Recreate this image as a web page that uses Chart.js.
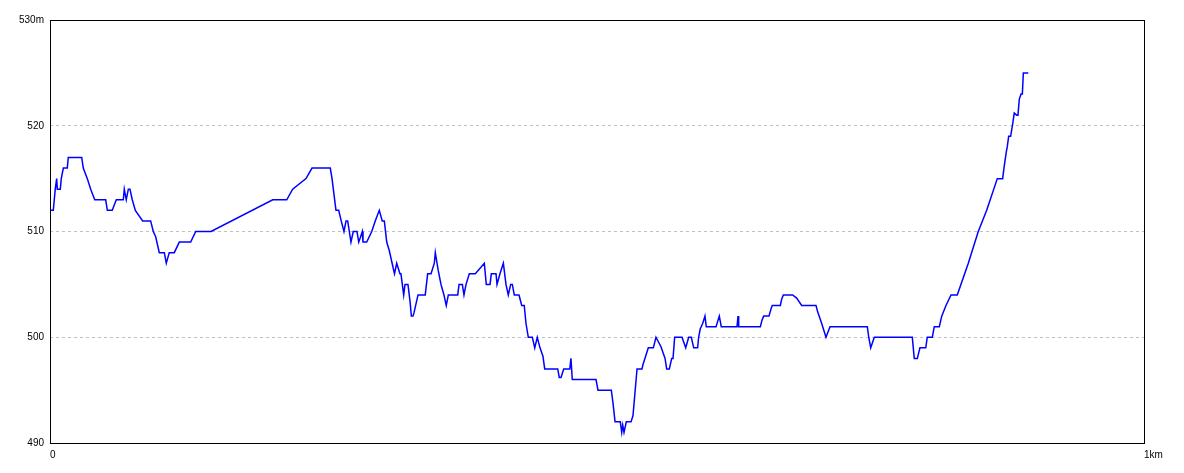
<!DOCTYPE html>
<html>
<head>
<meta charset="utf-8">
<script src="https://cdn.jsdelivr.net/npm/chart.js@4"></script>
<style>
	html, body { margin: 0; padding: 0; background: #ffffff; }
	#Chart_Profile { display: block; }
</style>
</head>
<body>
<canvas id="Chart_Profile" width="1184" height="473"></canvas>
<script>
// distance along the track (m)
const distance_m = [
	0, 3.0, 3.9, 4.8, 6.1, 6.7, 9.4, 10.3, 12.2, 15.8, 16.7, 29.0, 30.4, 34.1, 37.2, 40.9, 50.9, 52.4, 56.9, 60.6,
	67.0, 67.9, 69.7, 71.6, 73.1, 75.2, 78.0, 84.7, 92.0, 94.4, 96.6, 99.9, 104.5, 106.3, 109.0, 113.6, 118.2, 128.6, 133.2, 147.2,
	203.6, 216.4, 221.8, 234.0, 239.5, 256.2, 257.8, 261.4, 263.9, 266.2, 268.7, 270.6, 272.1, 273.6, 275.1, 277.2, 280.6, 282.2, 283.6, 285.5,
	286.1, 289.5, 294.1, 297.3, 301.0, 303.7, 305.6, 307.8, 310.1, 313.8, 314.9, 316.9, 319.9, 320.8, 323.3, 324.5, 327.2, 329.1, 330.3, 331.8,
	332.7, 336.4, 343.0, 345.2, 348.3, 351.3, 352.2, 354.9, 357.4, 360.1, 362.2, 364.1, 372.7, 373.9, 376.9, 378.4, 380.3, 383.3, 388.8, 397.0,
	398.8, 402.2, 403.4, 407.7, 408.6, 411.3, 414.4, 416.8, 418.9, 421.1, 422.6, 424.4, 428.7, 431.2, 433.5, 435.1, 437.2, 440.9, 443.1, 445.4,
	447.9, 450.6, 452.2, 464.1, 465.5, 467.1, 469.6, 475.1, 476.2, 477.4, 499.1, 500.9, 513.1, 514.6, 516.5, 521.3, 522.6, 523.5, 524.7, 526.8,
	531.1, 532.9, 536.6, 541.1, 542.0, 546.9, 551.5, 553.9, 558.5, 562.2, 563.7, 566.1, 568.3, 569.5, 571.0, 577.7, 581.1, 583.8, 586.2, 588.4,
	592.0, 592.9, 594.4, 596.6, 598.7, 599.9, 608.8, 611.8, 613.6, 628.0, 628.9, 629.5, 649.3, 650.8, 652.4, 657.2, 659.1, 660.2, 667.6, 668.8,
	670.3, 678.8, 682.5, 687.1, 700.2, 701.7, 705.4, 709.3, 713.0, 747.1, 748.4, 750.2, 753.5, 788.2, 790.0, 792.8, 795.2, 800.5, 801.9, 806.5,
	808.3, 812.9, 815.1, 819.0, 823.6, 829.3, 839.4, 848.5, 856.2, 865.9, 870.8, 872.0, 874.1, 875.0, 876.3, 878.1, 880.0, 881.4, 883.6, 884.8,
	886.0, 887.6, 888.8, 889.7, 894.2
];

// elevation (m)
const elevation_m = [
	512, 512, 513, 514, 515, 514, 514, 515, 516, 516, 517, 517, 516, 515, 514, 513, 513, 512, 512, 513,
	513, 514, 513, 514, 514, 513, 512, 511, 511, 510, 509.5, 508, 508, 507, 508, 508, 509, 509, 510, 510,
	513, 513, 514, 515, 516, 516, 515, 512, 512, 511, 510, 511, 511, 510, 509, 510, 510, 509, 509.4, 510,
	509, 509, 510, 511, 512, 511, 511, 509, 508.2, 506.5, 506, 507, 506, 506, 504, 505, 505, 503.4, 502, 502,
	502.3, 504, 504, 506, 506, 507, 508, 506.3, 505, 504, 503, 504, 504, 505, 505, 504, 505, 506, 506, 507,
	505, 505, 506, 506, 505, 506, 507, 505, 504, 505, 505, 504, 504, 503, 503, 501.3, 500, 500, 499, 500,
	499, 498.2, 497, 497, 496.2, 496.2, 497, 497, 498, 496, 496, 495, 495, 493.8, 492, 492, 491, 491.7, 491, 492,
	492, 492.6, 497, 497, 497.4, 499, 499, 500, 499.1, 498, 497, 497, 498, 498, 500, 500, 499, 500, 500, 499,
	499, 500, 500.8, 501.3, 502, 501, 501, 502, 501, 501, 502, 501, 501, 501.6, 502, 502, 502.7, 503, 503, 503.6,
	504, 504, 503.7, 503, 503, 502.4, 501.3, 500, 501, 501, 500, 499, 500, 500, 498, 498, 499, 499, 500, 500,
	501, 501, 502, 503, 504, 504, 507, 510, 512, 515, 515, 516, 517.5, 518, 519, 519, 520.2, 521.2, 521, 521,
	522.5, 523, 523, 525, 525
];

// axis ticks and their labels
const x_ticks = [0, 1000];
const x_tick_labels = ['0', '1km'];
const y_ticks = [490, 500, 510, 520, 530];
const y_tick_labels = ['490', '500', '510', '520', '530m'];

let chart = null;

window.onload = init;

function init() {

	const points = [];
	let idx = 0;
	while(idx < distance_m.length) {
		points[idx] = { x: distance_m[idx], y: elevation_m[idx] };
		idx++;
	}

	// black frame round the plot area
	const frame_plugin = {
		id: 'frame',
		afterDraw(c) {
			const a = c.chartArea;
			const ctx = c.ctx;
			ctx.save();
			ctx.strokeStyle = '#000000';
			ctx.lineWidth = 1;
			ctx.strokeRect(Math.round(a.left) + 0.5, Math.round(a.top) + 0.5, Math.round(a.right - a.left), Math.round(a.bottom - a.top));
			ctx.restore();
		}
	};

	const chart_data = {
		datasets: [{
			data: points,
			borderColor: '#0000ff',
			borderWidth: 1.5,
			pointRadius: 0,
			tension: 0,
			fill: false
		}]
	};

	const tick_font = { family: '"Liberation Sans", Arial, sans-serif', size: 10 };

	const options = {
		responsive: false,
		devicePixelRatio: 1,
		animation: false,
		layout: {
			padding: { top: 20, right: 40, left: 0, bottom: 0 }
		},
		plugins: {
			legend: { display: false },
			tooltip: { enabled: false }
		},
		scales: {
			x: {
				type: 'linear',
				min: 0,
				max: 1000,
				afterBuildTicks: s => { s.ticks = x_ticks.map(v => ({ value: v })); },
				afterFit: s => { s.height = 30; },
				grid: { display: false, drawTicks: false },
				border: { display: false },
				ticks: {
					color: '#000000',
					font: tick_font,
					padding: 6,
					align: 'start',
					maxRotation: 0,
					autoSkip: false,
					callback: (v) => x_tick_labels[x_ticks.indexOf(v)]
				}
			},
			y: {
				type: 'linear',
				min: 490,
				max: 530,
				afterBuildTicks: s => { s.ticks = y_ticks.map(v => ({ value: v })); },
				afterFit: s => { s.width = 50; },
				grid: {
					drawTicks: false,
					color: ctx => (ctx.tick && (ctx.tick.value === 490 || ctx.tick.value === 530)) ? 'rgba(0,0,0,0)' : '#c0c0c0',
					lineWidth: 1
				},
				border: { display: false, dash: [3, 3] },
				ticks: {
					color: '#000000',
					font: tick_font,
					padding: 6,
					autoSkip: false,
					callback: (v) => y_tick_labels[y_ticks.indexOf(v)]
				}
			}
		}
	};

	const config = {
		type: 'line',
		data: chart_data,
		options: options,
		plugins: [frame_plugin]
	};

	chart = new Chart(document.getElementById('Chart_Profile').getContext('2d'), config);
}
</script>
</body>
</html>
